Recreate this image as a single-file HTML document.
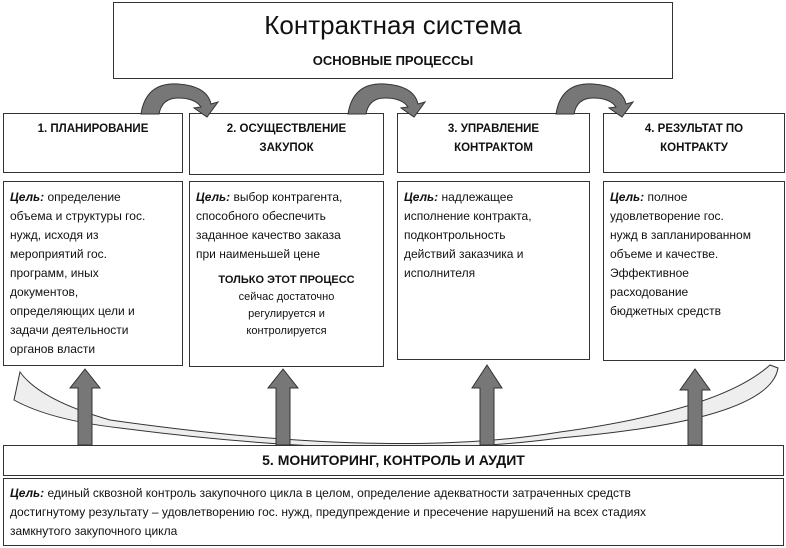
<!DOCTYPE html>
<html><head><meta charset="utf-8"><style>
body{margin:0;width:786px;height:548px;background:#fff;position:relative;overflow:hidden;font-family:"Liberation Sans","Noto Sans CJK SC",sans-serif;color:#111}
.b{position:absolute;border:1.5px solid #333;background:#fff;box-sizing:border-box}
.h{font-weight:bold;font-size:11.5px;text-align:center;line-height:19px;padding-top:6px}
.t{font-size:12px;line-height:19px;padding:6px 0 0 6px;white-space:nowrap}
svg{position:absolute;left:0;top:0}
</style></head><body>
<svg width="786" height="548">
<path d="M20 372 Q 40 400 110 420 Q 390 460 560 432 Q 720 410 770 365 L 778 368 Q 770 420 560 438 Q 380 462 120 428 Q 50 420 14 400 Z" fill="#eee" stroke="#333" stroke-width="1"/>
</svg>
<div class="b" style="left:113px;top:2px;width:560px;height:77px">
<div style="text-align:center;font-size:26px;margin-top:7px;font-weight:500">Контрактная система</div>
<div style="text-align:center;font-size:13px;font-weight:bold;margin-top:12px">ОСНОВНЫЕ ПРОЦЕССЫ</div></div>
<div class="b h" style="left:3px;top:113px;width:180px;height:60px">1. ПЛАНИРОВАНИЕ</div>
<div class="b h" style="left:189px;top:113px;width:195px;height:62px">2. ОСУЩЕСТВЛЕНИЕ<br>ЗАКУПОК</div>
<div class="b h" style="left:397px;top:113px;width:193px;height:60px">3. УПРАВЛЕНИЕ<br>КОНТРАКТОМ</div>
<div class="b h" style="left:603px;top:113px;width:182px;height:60px">4. РЕЗУЛЬТАТ ПО<br>КОНТРАКТУ</div>
<div class="b t" style="left:3px;top:181px;width:180px;height:185px"><b><i>Цель:</i></b> определение<br>объема и структуры гос.<br>нужд, исходя из<br>мероприятий гос.<br>программ, иных<br>документов,<br>определяющих цели и<br>задачи деятельности<br>органов власти</div>
<div class="b t" style="left:189px;top:181px;width:195px;height:186px"><b><i>Цель:</i></b> выбор контрагента,<br>способного обеспечить<br>заданное качество заказа<br>при наименьшей цене
<div style="text-align:center;font-size:11px;margin-top:8px;line-height:17px;padding-right:6px"><b>ТОЛЬКО ЭТОТ ПРОЦЕСС</b><br>сейчас достаточно<br>регулируется и<br>контролируется</div></div>
<div class="b t" style="left:397px;top:181px;width:193px;height:179px"><b><i>Цель:</i></b> надлежащее<br>исполнение контракта,<br>подконтрольность<br>действий заказчика и<br>исполнителя</div>
<div class="b t" style="left:603px;top:181px;width:182px;height:180px"><b><i>Цель:</i></b> полное<br>удовлетворение гос.<br>нужд в запланированном<br>объеме и качестве.<br>Эффективное<br>расходование<br>бюджетных средств</div>
<div class="b" style="left:3px;top:445px;width:781px;height:31px;text-align:center;font-weight:bold;font-size:14px;line-height:29px">5. МОНИТОРИНГ, КОНТРОЛЬ И АУДИТ</div>
<div class="b" style="left:3px;top:478px;width:781px;height:68px;font-size:12px;line-height:19px;padding:5px 0 0 6px;white-space:nowrap"><b><i>Цель:</i></b> единый сквозной контроль закупочного цикла в целом, определение адекватности затраченных средств<br>достигнутому результату – удовлетворению гос. нужд, предупреждение и пресечение нарушений на всех стадиях<br>замкнутого закупочного цикла</div>
<svg width="786" height="548">
<g fill="#777" stroke="#333" stroke-width="1">
<path d="M78 445 V388 H70 L85 369 L100 388 H92 V445 Z"/>
<path d="M276 445 V388 H268 L283 369 L298 388 H290 V445 Z"/>
<path d="M480 445 V388 H472 L487 365 L502 388 H494 V445 Z"/>
<path d="M688 445 V390 H680 L695 369 L710 390 H702 V445 Z"/>
<path d="M141 114 Q 146 82 178 84 Q 207 86 211 104 L218 102 L207 117 L194 108 L201 107 Q 195 98 178 98 Q 162 98 159 114 Z"/>
<path d="M348 114 Q 353 82 385 84 Q 414 86 418 104 L425 102 L414 117 L401 108 L408 107 Q 402 98 385 98 Q 369 98 366 114 Z"/>
<path d="M556 114 Q 561 82 593 84 Q 622 86 626 104 L633 102 L622 117 L609 108 L616 107 Q 610 98 593 98 Q 577 98 574 114 Z"/>
</g></svg>
</body></html>
